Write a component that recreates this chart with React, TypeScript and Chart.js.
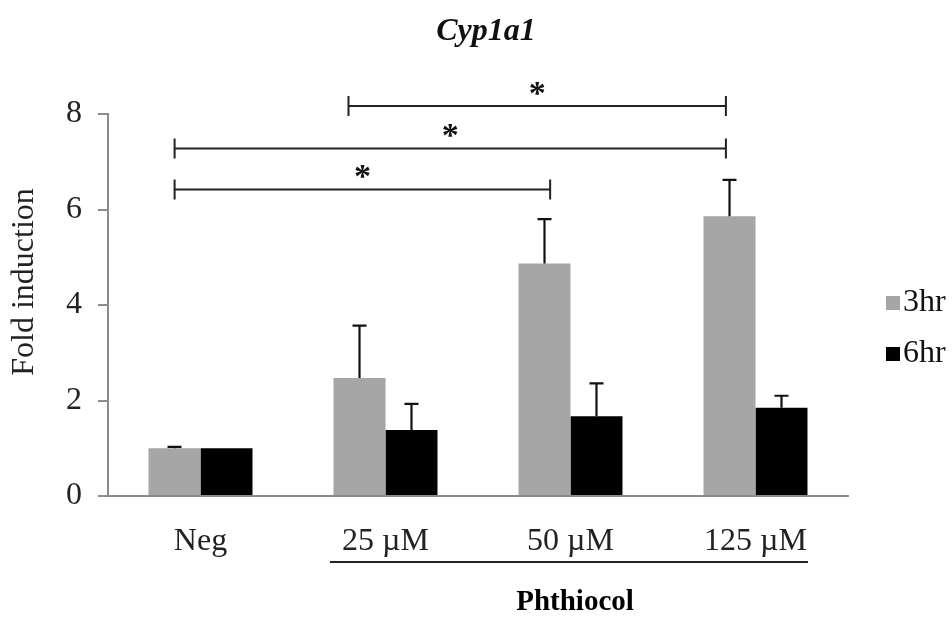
import React, { useEffect, useRef } from "react";
import { Chart, registerables } from "chart.js";

Chart.register(...registerables);

// Cyp1a1 fold induction after phthiocol exposure
const categories = ["Neg", "25 µM", "50 µM", "125 µM"];
const series3hr = [1.0, 2.47, 4.87, 5.86];
const error3hr = [0.03, 1.1, 0.93, 0.76];
const series6hr = [1.0, 1.38, 1.67, 1.85];
const error6hr = [0, 0.55, 0.69, 0.25];
const yTicks = [0, 2, 4, 6, 8];

// significance brackets (category-axis positions and y level)
const bracketStart = [-0.14, -0.14, 0.8];
const bracketEnd = [1.89, 2.84, 2.84];
const bracketLevel = [6.42, 7.28, 8.17];
const bracketMark = ["*", "*", "*"];

const seriesNames = ["3hr", "6hr"];
const seriesColors = ["#a6a6a6", "#000000"];
const chartTitle = "Cyp1a1";
const yTitle = "Fold induction";
const groupTitle = "Phthiocol";

const SERIF = '"Liberation Serif", "Times New Roman", serif';

const annotations = {
  id: "annotations",
  afterDatasetsDraw(chart: any) {
    const { ctx } = chart;
    const y = chart.scales.y;
    const errs = [error3hr, error6hr];
    const vals = [series3hr, series6hr];
    ctx.save();
    ctx.strokeStyle = "#111";
    ctx.lineWidth = 2.2;
    for (let d = 0; d < 2; d++) {
      const meta = chart.getDatasetMeta(d);
      meta.data.forEach((bar: any, i: number) => {
        const e = errs[d][i];
        if (!e) return;
        const top = y.getPixelForValue(vals[d][i] + e);
        const base = y.getPixelForValue(vals[d][i]);
        ctx.beginPath();
        ctx.moveTo(bar.x, base);
        ctx.lineTo(bar.x, top);
        ctx.moveTo(bar.x - 7, top);
        ctx.lineTo(bar.x + 7, top);
        ctx.stroke();
      });
    }
    ctx.restore();
  },
  afterDraw(chart: any) {
    const { ctx } = chart;
    const x = chart.scales.x;
    const y = chart.scales.y;
    ctx.save();

    // brackets
    ctx.strokeStyle = "#222";
    ctx.lineWidth = 2;
    ctx.fillStyle = "#111";
    ctx.font = `bold 34px ${SERIF}`;
    ctx.textAlign = "center";
    ctx.textBaseline = "alphabetic";
    bracketLevel.forEach((lv, i) => {
      const x0 = x.getPixelForValue(bracketStart[i]);
      const x1 = x.getPixelForValue(bracketEnd[i]);
      const yy = y.getPixelForValue(lv);
      ctx.beginPath();
      ctx.moveTo(x0, yy);
      ctx.lineTo(x1, yy);
      ctx.moveTo(x0, yy - 10);
      ctx.lineTo(x0, yy + 10);
      ctx.moveTo(x1, yy - 10);
      ctx.lineTo(x1, yy + 10);
      ctx.stroke();
      ctx.fillText(bracketMark[i], (x0 + x1) / 2, yy - 2);
    });

    // title
    ctx.fillStyle = "#111";
    ctx.font = `italic bold 32px ${SERIF}`;
    ctx.textAlign = "center";
    ctx.fillText(chartTitle, 486, 40);

    // y title
    ctx.save();
    ctx.translate(25, 282);
    ctx.rotate(-Math.PI / 2);
    ctx.font = `32px ${SERIF}`;
    ctx.fillStyle = "#222";
    ctx.textBaseline = "middle";
    ctx.fillText(yTitle, 0, 0);
    ctx.restore();

    // group underline and label
    ctx.strokeStyle = "#222";
    ctx.lineWidth = 2;
    ctx.beginPath();
    ctx.moveTo(330, 562);
    ctx.lineTo(808, 562);
    ctx.stroke();
    ctx.fillStyle = "#000";
    ctx.font = `bold 29px ${SERIF}`;
    ctx.textAlign = "center";
    ctx.textBaseline = "alphabetic";
    ctx.fillText(groupTitle, 575, 610);

    // legend
    ctx.textAlign = "left";
    ctx.textBaseline = "middle";
    ctx.font = `32px ${SERIF}`;
    const rows = [303, 354];
    seriesNames.forEach((name, i) => {
      ctx.fillStyle = seriesColors[i];
      ctx.fillRect(886, rows[i] - 7, 14, 14);
      ctx.fillStyle = "#111";
      ctx.fillText(name, 903, rows[i]);
    });
    ctx.restore();
  },
};

export default function App() {
  const ref = useRef<HTMLCanvasElement>(null);
  useEffect(() => {
    if (!ref.current) return;
    const chart = new Chart(ref.current, {
      type: "bar",
      data: {
        labels: categories,
        datasets: [
          { label: seriesNames[0], data: series3hr, backgroundColor: seriesColors[0] },
          { label: seriesNames[1], data: series6hr, backgroundColor: seriesColors[1] },
        ],
      },
      options: {
        responsive: false,
        animation: false,
        devicePixelRatio: 1,
        layout: { padding: { left: 0, top: 114, right: 104, bottom: 0 } },
        datasets: { bar: { categoryPercentage: 0.562, barPercentage: 1 } },
        plugins: { legend: { display: false }, title: { display: false }, tooltip: { enabled: false } },
        scales: {
          x: {
            offset: true,
            grid: { display: false },
            border: { display: true, color: "#8c8c8c", width: 2 },
            ticks: { font: { family: SERIF, size: 32 }, color: "#222", padding: 18 },
            afterFit: (s: any) => { s.height = 121; },
          },
          y: {
            min: 0,
            max: 8,
            afterBuildTicks: (s: any) => { s.ticks = yTicks.map((v) => ({ value: v })); },
            ticks: { font: { family: SERIF, size: 32 }, color: "#222", padding: 16 },
            grid: { drawOnChartArea: false, drawTicks: true, tickLength: 10, color: "#8c8c8c", lineWidth: 2 },
            border: { display: true, color: "#8c8c8c", width: 2 },
            afterFit: (s: any) => { s.width = 108; },
          },
        },
      },
      plugins: [annotations],
    });
    return () => chart.destroy();
  }, []);
  return (
    <div style={{ position: "fixed", left: 0, top: 0, width: 952, height: 617, background: "#fff" }}>
      <canvas ref={ref} width={952} height={617} style={{ width: 952, height: 617 }} />
    </div>
  );
}
